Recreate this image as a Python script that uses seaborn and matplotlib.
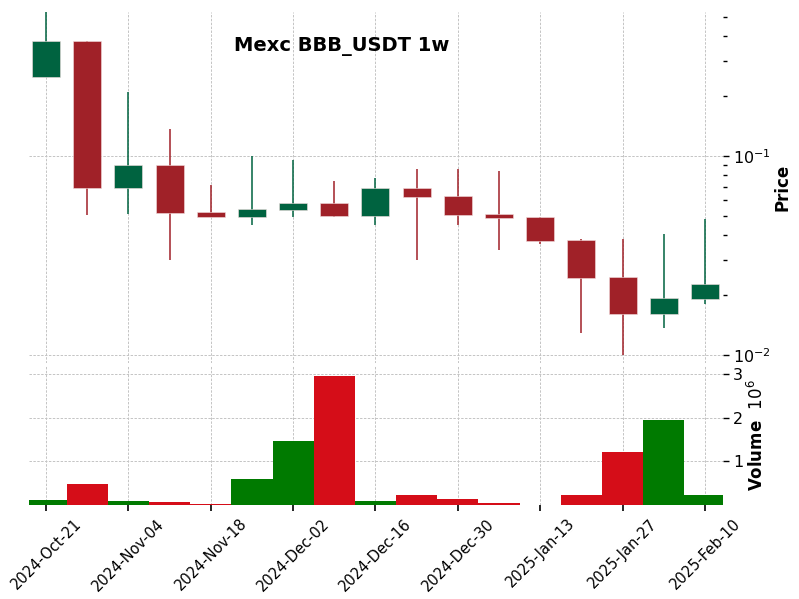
import numpy as np
import pandas as pd
import matplotlib
matplotlib.use("Agg")
import matplotlib.pyplot as plt
import matplotlib.ticker as mticker
import seaborn as sns

# weekly candles, Mexc BBB_USDT
dates = pd.date_range("2024-10-21", periods=17, freq="7D")
opens = [0.249, 0.379, 0.069, 0.0904, 0.0525, 0.0494, 0.0536, 0.0583, 0.0499,
         0.0693, 0.0632, 0.0513, 0.0496, 0.0380, 0.0247, 0.0161, 0.0192]
highs = [0.55, 0.379, 0.210, 0.136, 0.0713, 0.100, 0.0951, 0.0746, 0.0778,
         0.0863, 0.0857, 0.0838, 0.0496, 0.0383, 0.0384, 0.0404, 0.0481]
lows = [0.249, 0.0506, 0.0512, 0.030, 0.0494, 0.0449, 0.0496, 0.0496, 0.0449,
        0.030, 0.0452, 0.0337, 0.036, 0.01285, 0.00997, 0.0136, 0.0180]
closes = [0.379, 0.069, 0.0904, 0.0519, 0.0494, 0.0543, 0.0583, 0.0499, 0.069,
          0.0622, 0.0505, 0.0488, 0.0375, 0.0245, 0.0161, 0.0194, 0.0228]
volumes = [0.11e6, 0.48e6, 0.09e6, 0.06e6, 0.03e6, 0.59e6, 1.46e6, 2.95e6, 0.10e6,
           0.24e6, 0.14e6, 0.05e6, 0.0, 0.22e6, 1.21e6, 1.94e6, 0.22e6]

up_col, down_col = "#006340", "#A02128"
vol_up, vol_down = "#007a00", "#d50d18"

df = pd.DataFrame({"date": dates, "open": opens, "high": highs, "low": lows,
                   "close": closes, "volume": volumes})
df["pos"] = np.arange(len(df))
df["dir"] = np.where(df["close"] >= df["open"], "up", "down")

sns.set_theme(style="white")
plt.rcParams["font.family"] = ["DejaVu Sans"]
plt.rcParams["text.color"] = "black"
plt.rcParams["axes.labelcolor"] = "black"

fig = plt.figure(figsize=(7.99, 5.99), dpi=100)
ax = fig.add_axes([0.0363, 0.394, 0.8687, 0.586])
axv = fig.add_axes([0.0363, 0.157, 0.8687, 0.232], sharex=ax)

grid_kw = dict(color="#c4c4c4", linestyle=(0, (2.5, 1.5)), linewidth=0.7)

# candles
cols = [up_col if d == "up" else down_col for d in df["dir"]]
ax.vlines(df["pos"], df["low"], df["high"], colors=cols, linewidth=1.1, zorder=3)
body_lo = np.minimum(df["open"], df["close"])
body_h = np.abs(df["close"] - df["open"])
ax.bar(df["pos"], body_h, bottom=body_lo, width=0.68, color=cols,
       edgecolor="#f2dede", linewidth=0.4, zorder=4)
ax.set_yscale("log")
ax.set_ylim(0.00912, 0.529)
ax.set_xlim(-0.413, 16.44)

# volume
sns.barplot(data=df, x="pos", y="volume", hue="dir", palette={"up": vol_up, "down": vol_down},
            dodge=False, width=1.0, native_scale=True, legend=False, linewidth=0,
            saturation=1, ax=axv, zorder=3)
axv.set_ylim(0, 3.19e6)
axv.set_xlim(-0.413, 16.44)
axv.set_yticks([1e6, 2e6, 3e6])
axv.yaxis.set_major_formatter(mticker.FuncFormatter(lambda v, _: f"{v / 1e6:g}"))

ticks = list(range(0, 17, 2))
axv.set_xticks(ticks)
axv.set_xticklabels([d.strftime("%Y-%b-%d") for d in df["date"].iloc[ticks]],
                    rotation=45, ha="center", fontsize=10.5)
for a in (ax, axv):
    for s in a.spines.values():
        s.set_visible(False)
    a.yaxis.tick_right()
    a.yaxis.set_label_position("right")
    a.grid(True, which="major", **grid_kw)
    a.set_axisbelow(True)
    a.tick_params(axis="y", which="major", length=4, width=1, labelsize=11.5,
                  colors="black", pad=3)
    a.tick_params(axis="y", which="minor", length=3, width=1, colors="black")
ax.tick_params(axis="x", which="both", bottom=False, labelbottom=False)
axv.tick_params(axis="x", which="major", bottom=True, length=4, width=1.2,
                colors="black", pad=4)
axv.xaxis.set_tick_params(which="minor", bottom=False)
axv.set_xlabel("")
ax.set_ylabel("Price", fontsize=12, fontweight="bold", labelpad=2)
axv.set_ylabel("Volume  $10^{6}$", fontsize=12, fontweight="bold", labelpad=3)

fig.text(0.428, 0.923, "Mexc BBB_USDT 1w", fontsize=14, fontweight="bold",
         color="black", ha="center", va="center")

fig.savefig("out.png", dpi=100)
